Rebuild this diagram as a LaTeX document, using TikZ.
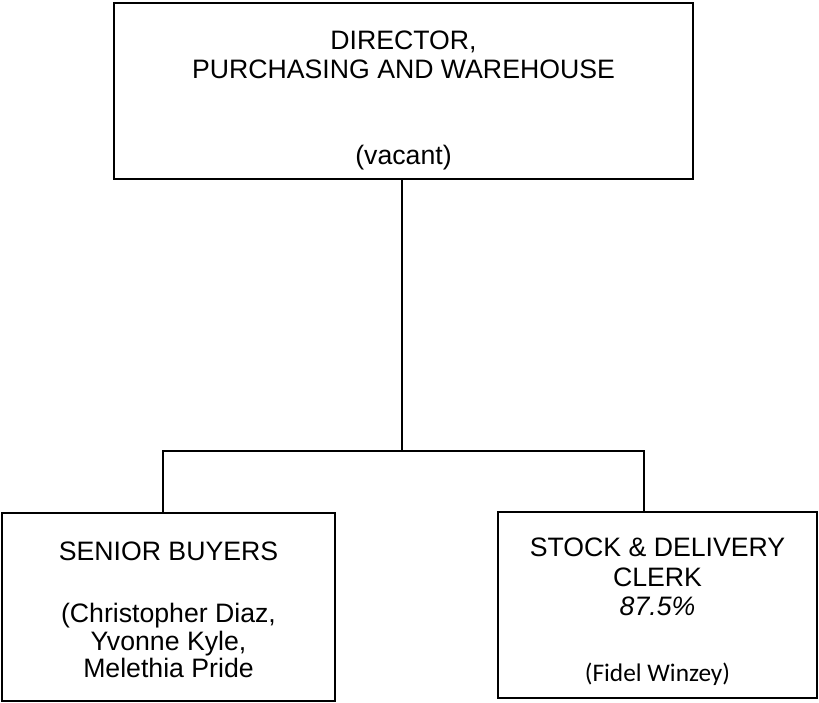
\documentclass[tikz,border=0pt]{standalone}
\usepackage{fontspec}
\setmainfont{Liberation Sans}
\newfontfamily\calibfont{Carlito}

\tikzset{every picture/.style={line width=2pt}}
\tikzset{
  orgbox/.style={draw, rectangle, inner sep=0pt},
  orgtxt/.style={anchor=base, inner sep=0pt, font=\fontsize{20}{22}\selectfont}
}

\begin{document}
\begin{tikzpicture}[x=0.75pt,y=0.75pt,yscale=-1,xscale=1]
\useasboundingbox (0,0) rectangle (819,703);

%Shape: Rectangle [director]
\node [orgbox, minimum width=579*0.75pt, minimum height=176*0.75pt] (dir) at (403.5,91) {};
%Shape: Rectangle [senior buyers]
\node [orgbox, minimum width=333*0.75pt, minimum height=188*0.75pt] (buy) at (168.5,607) {};
%Shape: Rectangle [stock and delivery clerk]
\node [orgbox, minimum width=319*0.75pt, minimum height=186*0.75pt] (clerk) at (657.5,605) {};

%Straight Lines
\coordinate (hubL) at (163,451);
\coordinate (hubR) at (644,451);
\coordinate (drop) at (402,451);
\draw (drop |- dir.south) -- (drop);
\draw (hubL |- buy.north) -- (hubL) -- (hubR) -- (hubR |- clerk.north);

% Text Node
\node [orgtxt] (dirA) at (403.5,49) {DIRECTOR,};
% Text Node
\node [orgtxt] (dirB) at (403.5,79) {PURCHASING AND WAREHOUSE};
% Text Node
\node [orgtxt] (dirC) at (403.5,164) {(vacant)};
% Text Node
\node [orgtxt] (buyA) at (168.5,560) {SENIOR BUYERS};
% Text Node
\node [orgtxt] (buyB) at (168.5,622) {(Christopher Diaz,};
% Text Node
\node [orgtxt] (buyC) at (168.5,650) {Yvonne Kyle,};
% Text Node
\node [orgtxt] (buyD) at (168.5,677) {Melethia Pride};
% Text Node
\node [orgtxt] (clerkA) at (657.5,556) {STOCK \& DELIVERY};
% Text Node
\node [orgtxt] (clerkB) at (657.5,586) {CLERK};
% Text Node
\node [orgtxt] (clerkC) at (657.5,615) {\itshape 87.5\%};
% Text Node
\node [orgtxt, font=\calibfont\fontsize{19}{22}\selectfont] (clerkD) at (657.5,681) {(Fidel Winzey)};

\end{tikzpicture}
\end{document}
